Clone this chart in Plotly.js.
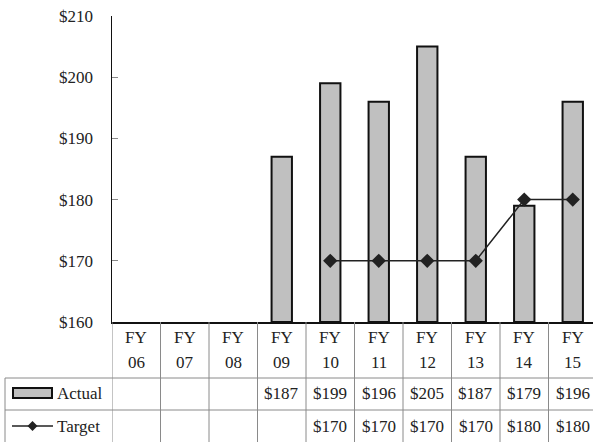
<!DOCTYPE html>
<html><head><meta charset="utf-8">
<script src="https://cdn.plot.ly/plotly-3.0.1.min.js"></script>
<style>html,body{margin:0;padding:0;background:#fff;overflow:hidden}</style>
</head><body><div id="chart"></div>
<script>
const categories = ["FY 06","FY 07","FY 08","FY 09","FY 10","FY 11","FY 12","FY 13","FY 14","FY 15"];
const actual = [null,null,null,187,199,196,205,187,179,196];
const target = [null,null,null,null,170,170,170,170,180,180];
const yTicks = [160,170,180,190,200,210];
const seriesNames = ["Actual","Target"];

const W = 597, H = 442, L = 112, T = 16, B = 120;
const PW = W - L, PH = H - T - B;
const py = y => (H - B - y) / PH;           // pixel y -> paper
const pxp = x => (x - L) / PW;              // pixel x -> paper
const font = {family: 'Liberation Serif, DejaVu Serif, serif', size: 17, color: '#222'};
const xs = categories.map((c, i) => i);
const fmt = v => (v === null ? '' : '$' + v);

const shapes = [];
const annotations = [];
const gridColor = '#8a8a8a';
for (let k = 0; k <= categories.length; k++) {
  shapes.push({type:'line', xref:'x', yref:'paper', x0:k-0.5, x1:k-0.5, y0:py(322), y1:py(442),
    line:{color:gridColor, width:1}});
}
shapes.push({type:'line', xref:'paper', yref:'paper', x0:pxp(5), x1:pxp(5), y0:py(378), y1:py(442), line:{color:gridColor, width:1}});
[378, 410].forEach(y => shapes.push({type:'line', xref:'paper', yref:'paper', x0:pxp(5), x1:1.02, y0:py(y), y1:py(y), line:{color:gridColor, width:1}}));
shapes.push({type:'rect', xref:'paper', yref:'paper', x0:pxp(13), x1:pxp(52), y0:py(398), y1:py(388), fillcolor:'#c0c0c0', line:{color:'#111', width:2}});
shapes.push({type:'line', xref:'paper', yref:'paper', x0:pxp(12), x1:pxp(53), y0:py(426), y1:py(426), line:{color:'#222', width:1.5}});
shapes.push({type:'path', xref:'paper', yref:'paper',
  path:`M ${pxp(32.5)} ${py(421)} L ${pxp(37.5)} ${py(426)} L ${pxp(32.5)} ${py(431)} L ${pxp(27.5)} ${py(426)} Z`,
  fillcolor:'#222', line:{color:'#222', width:0}});
annotations.push({xref:'paper', yref:'paper', x:pxp(55), y:py(393), text:seriesNames[0], showarrow:false, xanchor:'left', yanchor:'middle', font});
annotations.push({xref:'paper', yref:'paper', x:pxp(55), y:py(426), text:seriesNames[1], showarrow:false, xanchor:'left', yanchor:'middle', font});

categories.forEach((c, i) => {
  const parts = c.split(' ');
  annotations.push({xref:'x', yref:'paper', x:i, y:py(337), text:parts[0], showarrow:false, yanchor:'middle', font});
  annotations.push({xref:'x', yref:'paper', x:i, y:py(362), text:parts[1], showarrow:false, yanchor:'middle', font});
  if (actual[i] !== null) annotations.push({xref:'x', yref:'paper', x:i, y:py(393), text:fmt(actual[i]), showarrow:false, yanchor:'middle', font});
  if (target[i] !== null) annotations.push({xref:'x', yref:'paper', x:i, y:py(426), text:fmt(target[i]), showarrow:false, yanchor:'middle', font});
});

const baseVal = yTicks[0];
const data = [
  {type:'bar', x:xs, y:actual.map(v => v === null ? null : v - baseVal), base:baseVal, width:0.42,
   marker:{color:'#c0c0c0', line:{color:'#111', width:2}}, name:seriesNames[0], hoverinfo:'skip'},
  {type:'scatter', mode:'lines+markers', x:xs, y:target, name:seriesNames[1],
   line:{color:'#222', width:1.5}, marker:{symbol:'diamond', size:11, color:'#222'}, hoverinfo:'skip'}
];

const layout = {
  width: W, height: H,
  margin: {l:L, r:0, t:T, b:B},
  paper_bgcolor:'#fff', plot_bgcolor:'#fff',
  showlegend:false,
  font,
  xaxis: {range:[-0.5, categories.length-0.5], showticklabels:false, ticks:'', showgrid:false, zeroline:false,
          showline:true, linecolor:'#111', linewidth:1.5, fixedrange:true},
  yaxis: {range:[yTicks[0], yTicks[yTicks.length-1]], tickvals:yTicks, ticktext:yTicks.map(v => '$' + v),
          ticks:'inside', ticklen:6, tickcolor:'#888', tickwidth:1, showgrid:false, zeroline:false,
          showline:true, linecolor:'#111', linewidth:1.5, ticklabelstandoff:14, tickfont:font, fixedrange:true},
  shapes, annotations
};
Plotly.newPlot('chart', data, layout, {displayModeBar:false, staticPlot:true});
</script></body></html>
